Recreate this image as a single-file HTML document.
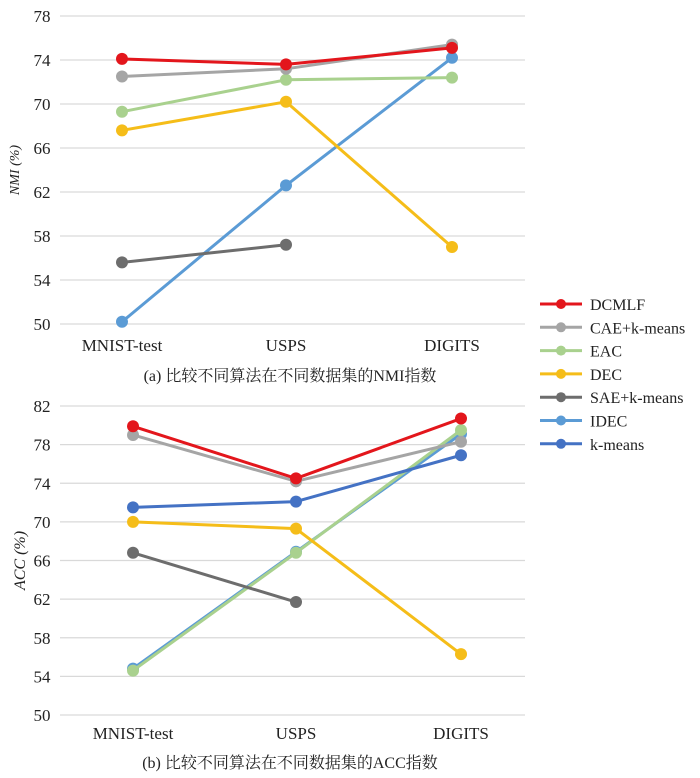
<!DOCTYPE html>
<html><head><meta charset="utf-8"><style>
body{margin:0;background:#fff;}
svg{display:block;font-family:"Liberation Serif","Noto Serif CJK SC",serif;}
</style></head><body>
<svg id="c" width="700" height="778"></svg>
<script>
const categories=["MNIST-test","USPS","DIGITS"];
const seriesNames=["DCMLF","CAE+k-means","EAC","DEC","SAE+k-means","IDEC","k-means"];
const seriesColors=["#e3161c","#a5a5a5","#a9d18e","#f5bd19","#6d6d6d","#5b9bd5","#4472c4"];
const nmiDCMLF=[74.1,73.6,75.1];
const nmiCAE=[72.5,73.2,75.4];
const nmiEAC=[69.3,72.2,72.4];
const nmiDEC=[67.6,70.2,57.0];
const nmiSAE=[55.6,57.2,null];
const nmiIDEC=[50.2,62.6,74.2];
const accDCMLF=[79.9,74.5,80.7];
const accCAE=[79.0,74.2,78.3];
const accEAC=[54.6,66.8,79.5];
const accDEC=[70.0,69.3,56.3];
const accSAE=[66.8,61.7,null];
const accIDEC=[54.8,66.9,79.1];
const accKmeans=[71.5,72.1,76.9];
const nmiTicks=[50,54,58,62,66,70,74,78];
const accTicks=[50,54,58,62,66,70,74,78,82];

const NS="http://www.w3.org/2000/svg";
const svg=document.getElementById('c');
function mk(t,a,p){const e=document.createElementNS(NS,t);for(const k in a)e.setAttribute(k,a[k]);(p||svg).appendChild(e);return e;}

function drawChart(o){
  const g=mk('g',{});
  
  
  const y=v=>o.y0+(v-o.vmin)/(o.vmax-o.vmin)*(o.y1-o.y0);
  const x=i=>o.xs[i];
  o.ticks.forEach(t=>{
    const l=mk('line',{x1:60,x2:525,y1:y(t),y2:y(t),stroke:'#d9d9d9','stroke-width':1.3},g);
    
    
    const tx=mk('text',{x:o.tickX,y:y(t)+6,'font-size':17,'text-anchor':'middle',fill:'#222'},g);
    tx.textContent=t;
    
    
  });
  categories.forEach((c,i)=>{
    const tx=mk('text',{x:x(i),y:o.catY,'font-size':17,'text-anchor':'middle',fill:'#222'},g);
    tx.textContent=c;
    
    
  });
  o.series.forEach(s=>{
    const pts=s.data.map((v,i)=>v==null?null:[x(i),y(v)]).filter(p=>p);
    const pl=mk('polyline',{points:pts.map(p=>p.join(',')).join(' '),fill:'none',stroke:seriesColors[s.idx],'stroke-width':3,'stroke-linejoin':'round'},g);
    
    
    pts.forEach(p=>{
      const ci=mk('circle',{cx:p[0],cy:p[1],r:6,fill:seriesColors[s.idx]},g);
      
      
    });
  });
  const at=mk('text',{transform:`translate(${o.axX},${(o.y0+o.y1)/2}) rotate(-90)`,'font-size':o.axSize,'text-anchor':'middle','font-style':'italic',fill:'#222'},g);
  at.textContent=o.axis;
  
  
  const cap=mk('text',{x:o.capX,y:o.capY,'font-size':16,'text-anchor':'middle',fill:'#222'},g);
  cap.textContent=o.caption;
  
  
}
drawChart({name:'nmi-chart',y0:324,y1:16,vmin:50,vmax:78,xs:[122,286,452],ticks:nmiTicks,tickX:42,catY:351,axX:19,axSize:14,axis:'NMI (%)',capX:290,capY:381,caption:'(a) 比较不同算法在不同数据集的NMI指数',
 series:[{idx:5,data:nmiIDEC},{idx:4,data:nmiSAE},{idx:3,data:nmiDEC},{idx:2,data:nmiEAC},{idx:1,data:nmiCAE},{idx:0,data:nmiDCMLF}]});
drawChart({name:'acc-chart',y0:715,y1:406,vmin:50,vmax:82,xs:[133,296,461],ticks:accTicks,tickX:42,catY:739,axX:25,axSize:16,axis:'ACC (%)',capX:290,capY:768,caption:'(b) 比较不同算法在不同数据集的ACC指数',
 series:[{idx:5,data:accIDEC},{idx:2,data:accEAC},{idx:4,data:accSAE},{idx:3,data:accDEC},{idx:6,data:accKmeans},{idx:1,data:accCAE},{idx:0,data:accDCMLF}]});

seriesNames.forEach((n,i)=>{
  const yy=304+i*23.3;
  const g=mk('g',{});
  
  
  mk('line',{x1:540,x2:582,y1:yy,y2:yy,stroke:seriesColors[i],'stroke-width':3},g);
  mk('circle',{cx:561,cy:yy,r:5,fill:seriesColors[i]},g);
  const t=mk('text',{x:590,y:yy+6,'font-size':16,fill:'#222'},g);
  t.textContent=n;
});
</script>
</body></html>
